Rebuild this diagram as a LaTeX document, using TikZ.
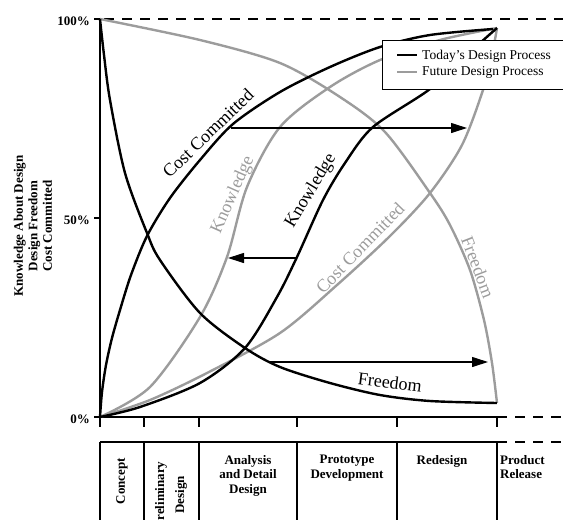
\documentclass[tikz,border=0pt]{standalone}
\usepackage{fontspec}
\setmainfont{Liberation Serif}
\usetikzlibrary{arrows.meta}
\definecolor{fut}{HTML}{9C9C9C}
\begin{document}
\begin{tikzpicture}[x=1pt,y=-1pt,
  today/.style={line width=2.4pt,black,line join=round},
  future/.style={line width=2.4pt,fut,line join=round},
  shiftarrow/.style={line width=1.1pt,-{Triangle[length=16pt,width=10pt]}},
  axisline/.style={line width=1.2pt},
  dashline/.style={line width=1.2pt,dash pattern=on 10pt off 8pt},
  curvelabel/.style={font=\fontsize{18}{20}\selectfont,inner sep=0pt},
  tablabel/.style={font=\fontsize{13}{14.5}\selectfont\bfseries,align=center,inner sep=0pt},
  ticklabel/.style={font=\fontsize{13}{15}\selectfont\bfseries,inner sep=0pt,anchor=east},
  legendtext/.style={font=\fontsize{13.5}{15}\selectfont,inner sep=0pt,anchor=west},
]
\useasboundingbox (0,0) rectangle (563,520);
\clip (0,0) rectangle (563,520);

% axes
\draw[axisline] (100,19) -- (100,427);
\draw[axisline] (100,417) -- (497,417);
\draw[dashline] (497,417) -- (563,417);
\draw[dashline] (104,19) -- (563,19);
\foreach \yy in {19,218,417} \draw[axisline] (94,\yy) -- (100,\yy);
\foreach \xx in {144,199,297,397,497} \draw[axisline] (\xx,417) -- (\xx,427);

\node[ticklabel] (t100) at (90,21) {100\%};
\node[ticklabel] (t50) at (90,220) {50\%};
\node[ticklabel] (t0) at (90,419) {0\%};

\node[rotate=90,align=center,inner sep=0pt,font=\fontsize{13}{14.5}\selectfont\bfseries] (ytitle) at (33,226)
  {Knowledge About Design\\Design Freedom\\Cost Committed};

% future curves
\draw[future] plot[smooth] coordinates {(100,19) (200,40) (280,63) (340,97) (385,132) (430,193) (450,225) (470,270) (484,320) (492,363) (497,403)};
\draw[future] plot[smooth] coordinates {(100,417) (150,387) (200,317) (227,257) (247,187) (280,127) (330,87) (380,60) (440,40) (497,28)};
\draw[future] plot[smooth] coordinates {(100,417) (150,400) (207,373) (280,333) (337,285) (390,236) (430,193) (462,145) (483,90) (492,55) (497,28)};

% today curves
\draw[today] plot[smooth] coordinates {(100,19) (104,55) (110,100) (125,173) (147,233) (160,260) (200,313) (245,348) (280,367) (330,383) (380,395) (430,401) (497,403)};
\draw[today] plot[smooth] coordinates {(100,417) (102,392) (106,365) (112,338) (120,310) (131,275) (147,236) (170,198) (200,160) (233,124) (280,92) (330,67) (380,47) (430,35) (493,29)};
\draw[today] plot[smooth] coordinates {(100,417) (140,407) (200,383) (245,348) (277,297) (297,257) (323,200) (345,163) (373,127) (430,89) (470,52) (497,28)};

% curve labels
\node[curvelabel,rotate=44] (lcct) at (208,133) {Cost Committed};
\node[curvelabel,rotate=66,text=fut] (lknf) at (233,195) {Knowledge};
\node[curvelabel,rotate=59] (lknt) at (311,191) {Knowledge};
\node[curvelabel,rotate=46,text=fut] (lccf) at (360,248) {Cost Committed};
\node[curvelabel,rotate=-69,text=fut] (lfrf) at (478,267) {Freedom};
\node[curvelabel,rotate=-7] (lfrt) at (390,382) {Freedom};

% shift arrows
\coordinate (a1s) at (231,128); \coordinate (a1e) at (467,128);
\coordinate (a2s) at (297,258); \coordinate (a2e) at (228,258);
\coordinate (a3s) at (270,362); \coordinate (a3e) at (488,362);
\draw[shiftarrow] (a1s) -- (a1e);
\draw[shiftarrow] (a2s) -- (a2e);
\draw[shiftarrow] (a3s) -- (a3e);

% legend
\node[draw,fill=white,line width=1.2pt,anchor=north west,minimum width=181pt,minimum height=49pt,inner sep=0pt] (legend) at (382,40) {};
\draw[today] (397,55) -- (417,55);
\draw[future] (397,72) -- (417,72);
\node[legendtext] (lgt) at (422,56) {Today’s Design Process};
\node[legendtext] (lgf) at (422,72) {Future Design Process};

% phase table
\draw[line width=1.8pt] (100,442) -- (497,442);
\draw[line width=1.8pt,dash pattern=on 10pt off 8pt] (497,442) -- (563,442);
\foreach \xx in {100,144,199,297,397,497} \draw[line width=1.2pt] (\xx,442) -- (\xx,520);

\node[tablabel,rotate=90] (pconcept) at (122,481) {Concept};
\node[tablabel,rotate=90,font=\fontsize{13}{20}\selectfont\bfseries] (pprelim) at (171,495) {Preliminary\\Design};
\node[tablabel,anchor=north] (panalysis) at (248,455) {Analysis\\and Detail\\Design};
\node[tablabel,anchor=north] (pproto) at (347,455) {Prototype\\Development};
\node[tablabel,anchor=north] (predesign) at (442,455) {Redesign};
\node[tablabel,anchor=north west,align=left] (prelease) at (500,455) {Product\\Release};
\end{tikzpicture}
\end{document}
